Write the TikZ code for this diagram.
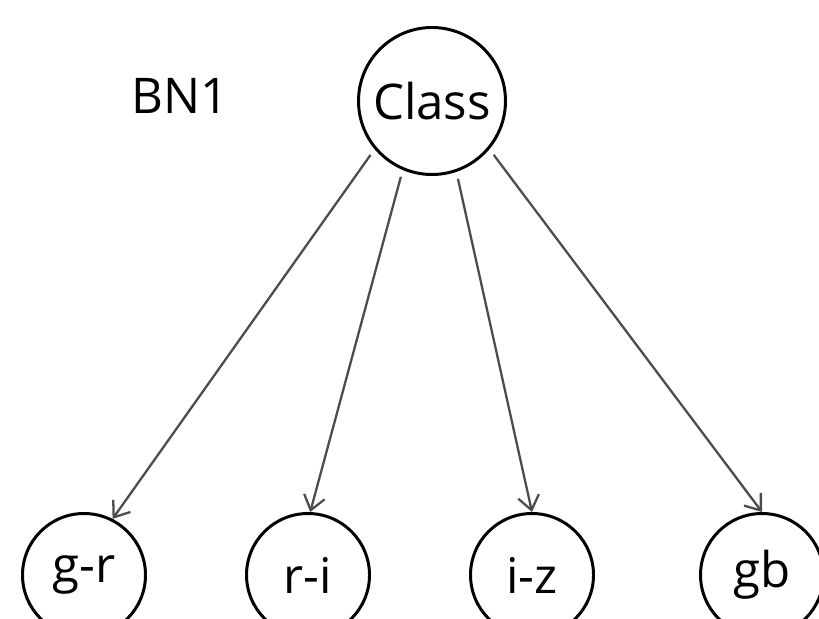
\documentclass[tikz,border=0pt]{standalone}
\usepackage{fontspec}
\setmainfont{Open Sans}
\usetikzlibrary{arrows.meta}

\begin{document}
\begin{tikzpicture}[
  var/.style={draw, circle, line width=1.7pt, inner sep=0pt, font=\fontsize{28}{33}\selectfont},
  edge/.style={draw=black!70, line width=1.3pt, -{Straight Barb[length=8pt,width=12pt]}, shorten <=4pt}
]

\useasboundingbox (0,0) rectangle (16.38,-12.36);

\node[var, minimum size=2.94cm] (class) at (8.64,-2.02) {Class};
\node[font=\fontsize{28}{33}\selectfont] (bn) at (3.6,-1.92) {BN1};

\node[var, minimum size=2.46cm] (gr) at (1.68,-11.5) {g-r};
\node[var, minimum size=2.46cm] (ri) at (6.16,-11.5) {r-i};
\node[var, minimum size=2.46cm] (iz) at (10.64,-11.5) {i-z};
\node[var, minimum size=2.46cm] (gb) at (15.24,-11.5) {gb};

\draw[edge] (class.220) -- (gr.63);
\draw[edge] (class.247) -- (ri.88);
\draw[edge] (class.289) -- (iz.90);
\draw[edge] (class.320) -- (gb.90);

\end{tikzpicture}
\end{document}
